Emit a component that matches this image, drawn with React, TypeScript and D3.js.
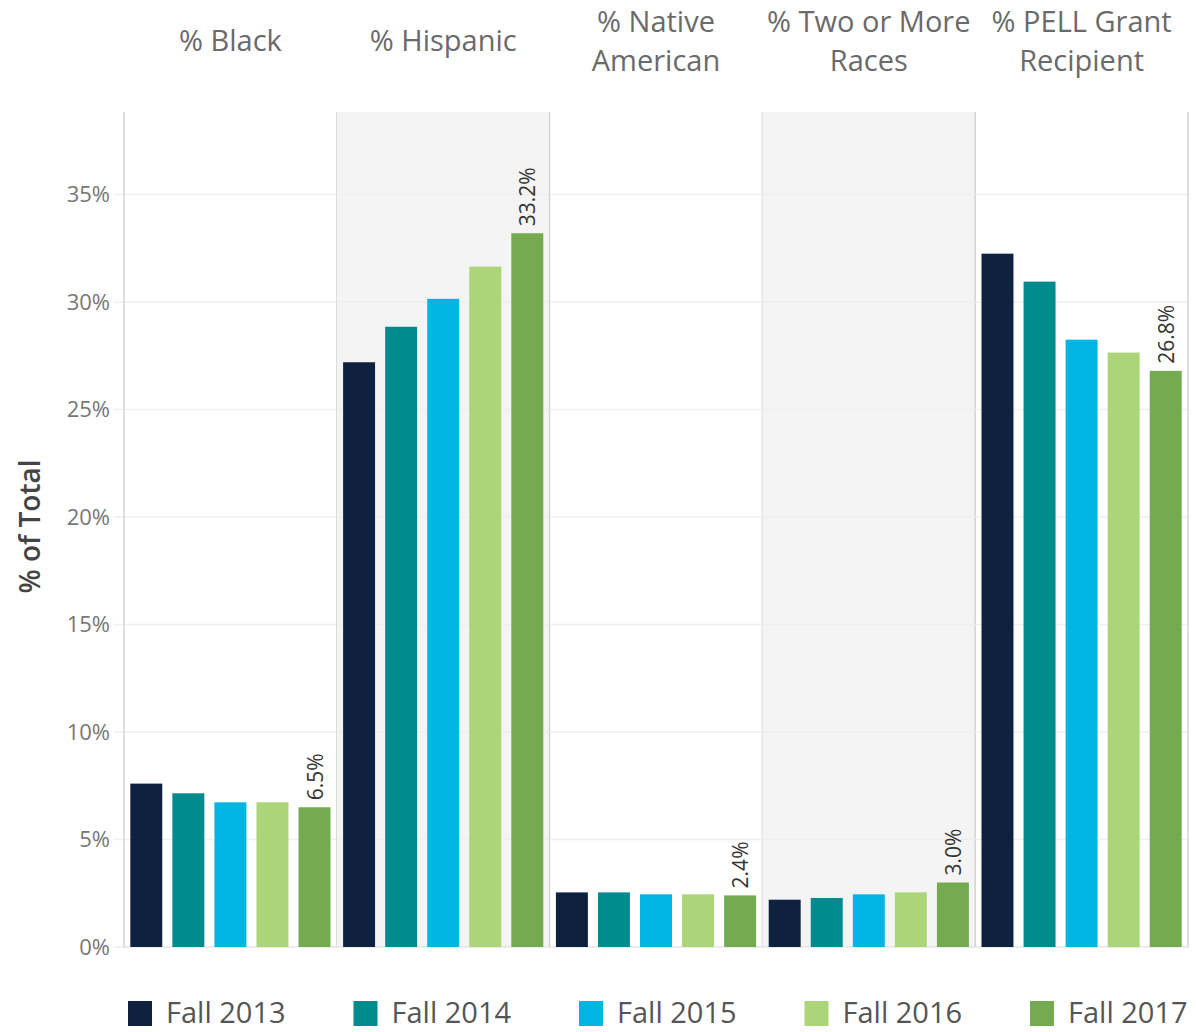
import * as d3 from "d3";

const WIDTH = 1196;
const HEIGHT = 1032;
const MARGIN = { top: 112, right: 8, bottom: 85, left: 124 };

// panel headers (one entry per line)
const CATEGORIES = ["% Black", "% Hispanic", "% Native American", "% Two or More Races", "% PELL Grant Recipient"];
const HEADER_LINES = [["% Black"], ["% Hispanic"], ["% Native", "American"], ["% Two or More", "Races"], ["% PELL Grant", "Recipient"]];
const TERMS = ["Fall 2013", "Fall 2014", "Fall 2015", "Fall 2016", "Fall 2017"];
const COLORS = ["#0e2240", "#008b8f", "#00b5e2", "#acd479", "#74aa50"];

// % of total per term, Fall 2013 .. Fall 2017
const black = [7.6, 7.15, 6.73, 6.73, 6.5];
const hispanic = [27.2, 28.85, 30.15, 31.65, 33.2];
const nativeAmerican = [2.54, 2.54, 2.45, 2.45, 2.4];
const twoOrMore = [2.2, 2.28, 2.45, 2.54, 3.0];
const pell = [32.25, 30.95, 28.25, 27.65, 26.8];
const SERIES = [black, hispanic, nativeAmerican, twoOrMore, pell];

const Y_TICKS = [0, 5, 10, 15, 20, 25, 30, 35];

const FONT = "'Open Sans', 'Noto Sans', sans-serif";

const App = () => {
  const boundsWidth = WIDTH - MARGIN.left - MARGIN.right;
  const boundsHeight = HEIGHT - MARGIN.top - MARGIN.bottom;

  const panelScale = d3.scaleBand<string>().domain(CATEGORIES).range([0, boundsWidth]).padding(0);
  const xScale = d3
    .scaleBand<string>()
    .domain(TERMS)
    .range([0, panelScale.bandwidth()])
    .paddingInner(0.24)
    .paddingOuter(0.15);
  const yScale = d3.scaleLinear().domain([0, 38.84]).range([boundsHeight, 0]);

  const panels = CATEGORIES.map((cat, ci) => {
    const px = panelScale(cat) as number;
    const values = SERIES[ci];
    const last = values.length - 1;
    return (
      <g key={cat} transform={`translate(${px},0)`}>
        {ci % 2 === 1 && (
          <rect x={0} y={0} width={panelScale.bandwidth()} height={boundsHeight} fill="#f4f4f4" />
        )}
        {Y_TICKS.map((t) => (
          <line
            key={t}
            x1={0}
            x2={panelScale.bandwidth()}
            y1={yScale(t)}
            y2={yScale(t)}
            stroke={t === 0 ? "#e6e6e6" : "#efefef"}
            strokeWidth={1.5}
          />
        ))}
        {values.map((v, i) => (
          <rect
            key={TERMS[i]}
            x={xScale(TERMS[i])}
            y={yScale(v)}
            width={xScale.bandwidth()}
            height={boundsHeight - yScale(v)}
            fill={COLORS[i]}
          />
        ))}
        <text
          transform={`translate(${(xScale(TERMS[last]) as number) + xScale.bandwidth() / 2 + 8},${yScale(values[last]) - 7}) rotate(-90)`}
          fontSize={21}
          fill="#333"
          fontFamily={FONT}
        >
          {d3.format(".1f")(values[last]) + "%"}
        </text>
        <line
          x1={panelScale.bandwidth()}
          x2={panelScale.bandwidth()}
          y1={0}
          y2={boundsHeight}
          stroke="#d4d4d4"
          strokeWidth={1.5}
        />
        {HEADER_LINES[ci].map((line, li) => {
          const n = HEADER_LINES[ci].length;
          const cy = -71 + (li - (n - 1) / 2) * 39;
          return (
            <text
              key={li}
              x={panelScale.bandwidth() / 2}
              y={cy}
              dy="0.35em"
              textAnchor="middle"
              fontSize={29}
              fill="#6a6a6a"
              fontFamily={FONT}
            >
              {line}
            </text>
          );
        })}
      </g>
    );
  });

  return (
    <div style={{ position: "absolute", left: 0, top: 0 }}>
      <svg width={WIDTH} height={HEIGHT} style={{ display: "block", background: "white" }}>
        <g transform={`translate(${MARGIN.left},${MARGIN.top})`}>
          {panels}
          {/* y axis */}
          {Y_TICKS.map((t) => (
            <g key={t}>
              <line x1={-10} x2={0} y1={yScale(t)} y2={yScale(t)} stroke="#efefef" strokeWidth={1.5} />
              <text
                x={-14}
                y={yScale(t)}
                dy="0.35em"
                textAnchor="end"
                fontSize={22}
                fill="#777"
                fontFamily={FONT}
              >
                {t + "%"}
              </text>
            </g>
          ))}
          <line x1={0} x2={0} y1={0} y2={boundsHeight} stroke="#d4d4d4" strokeWidth={1.5} />
          <text
            transform={`translate(${-84},${boundsHeight / 2 - 3}) rotate(-90)`}
            textAnchor="middle"
            fontSize={28}
            fill="#444"
            fontWeight={600}
            fontFamily={FONT}
          >
            % of Total
          </text>
        </g>
        {/* legend */}
        <g transform={`translate(128,1001)`}>
          {TERMS.map((term, i) => (
            <g key={term} transform={`translate(${i * 225.5},0)`}>
              <rect x={0} y={0} width={24} height={25} fill={COLORS[i]} />
              <text x={38} y={11} dy="0.38em" fontSize={29} fill="#555" fontFamily={FONT}>
                {term}
              </text>
            </g>
          ))}
        </g>
      </svg>
    </div>
  );
};

export default App;
